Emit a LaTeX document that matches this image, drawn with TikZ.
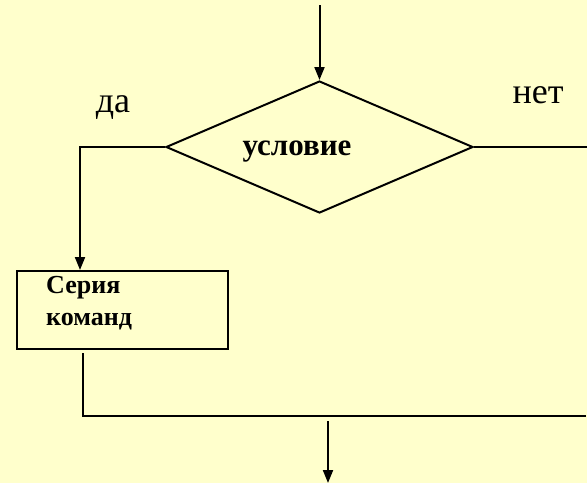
\documentclass[tikz,border=0pt]{standalone}
\usepackage{fontspec}
\setmainfont{Liberation Serif}
\usetikzlibrary{arrows.meta, shapes.geometric}
\definecolor{paleYellow}{RGB}{255,255,204}

\tikzset{
  line/.style={line width=2pt, black},
  flow/.style={line, -{Triangle[length=13pt, width=10pt]}},
  decision/.style={diamond, draw, line width=2pt, inner sep=0pt,
                   minimum width=307pt, minimum height=132pt},
  block/.style={rectangle, draw, line width=2pt, inner sep=0pt,
                minimum width=211pt, minimum height=78pt},
  answer/.style={font=\fontsize{36}{40}\selectfont, inner sep=0pt},
  boldtext/.style={font=\fontsize{#1}{#1}\selectfont\bfseries, inner sep=0pt},
}

\begin{document}
\begin{tikzpicture}[x=1pt, y=-1pt]

  \fill[paleYellow] (0,0) rectangle (587,483);
  \useasboundingbox (0,0) rectangle (587,483);

  % the check and its two answers
  \node[decision] (cond) at (319.5,147) {};
  \node[boldtext=31, anchor=base] (condlbl) at (297,155) {условие};
  \node[answer, anchor=base] (yes) at (113,112) {да};
  \node[answer, anchor=base] (no) at (538,103) {нет};

  % the "yes" branch
  \node[block] (series) at (122.5,310) {};
  \node[boldtext=26, anchor=base west] (seriesA) at (46,293) {Серия};
  \node[boldtext=26, anchor=base west] (seriesB) at (46,325) {команд};

  \coordinate (entry) at (319.5,5);
  \coordinate (yesturn) at (80,147);
  \coordinate (noend) at (587,147);
  \coordinate (joinL) at (83,416);
  \coordinate (joinR) at (586,416);
  \coordinate (exitTop) at (328,421);
  \coordinate (exit) at (328,483);

  \draw[flow] (entry) -- (cond.north);
  \draw[flow] (cond.west) -- (yesturn) -- (yesturn |- series.north);
  \draw[line] (cond.east) -- (noend);
  \draw[line] ([yshift=-3pt]joinL |- series.south) -- (joinL) -- (joinR);
  \draw[flow] (exitTop) -- (exit);

\end{tikzpicture}
\end{document}
